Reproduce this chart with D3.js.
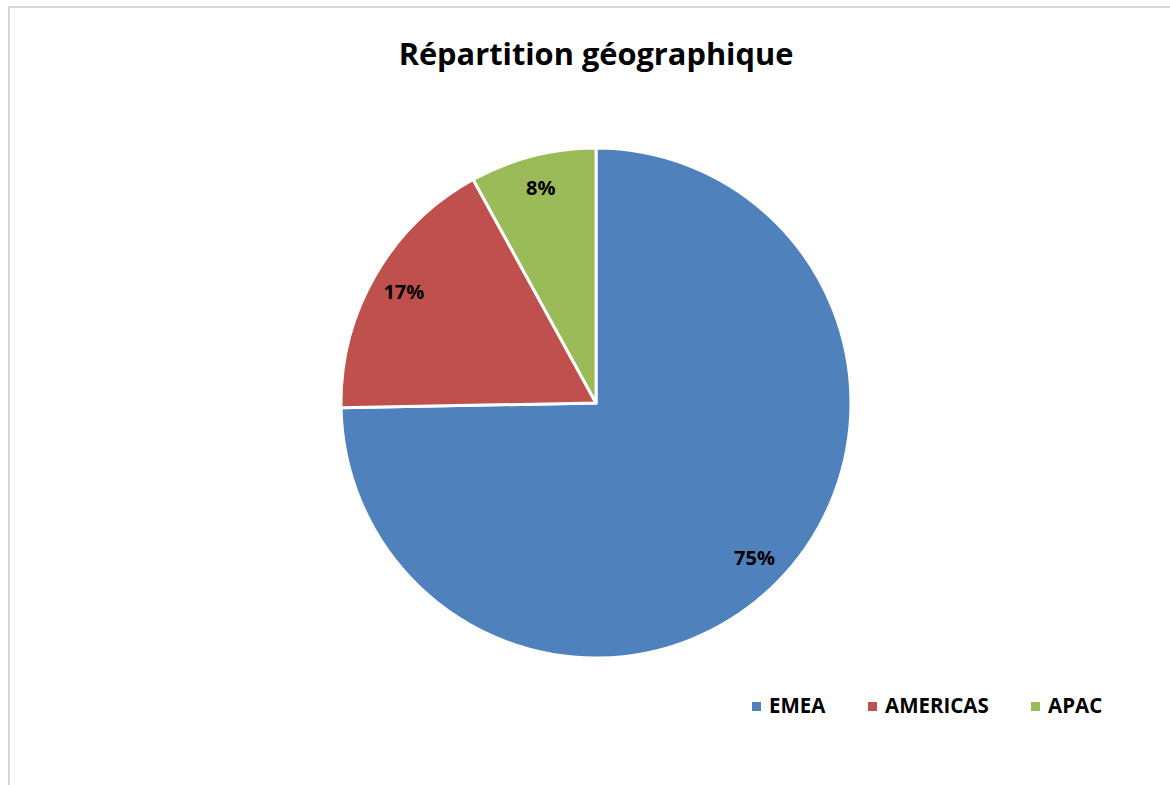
<!DOCTYPE html>
<html>
<head>
<meta charset="utf-8">
<script src="https://cdn.jsdelivr.net/npm/d3@7"></script>
<style>
  body { margin: 0; background: white; }
  svg { display: block; }
</style>
</head>
<body>
<svg id="chart" width="1170" height="785"></svg>
<script>
var width = 1170;
var height = 785;

var categories = ["EMEA", "AMERICAS", "APAC"];
var values = [74.7, 17.3, 8.0];
var labels = ["75%", "17%", "8%"];
var colors = ["#4F81BD", "#C0504D", "#9BBB59"];

var cx = 596, cy = 403, radius = 255;

var svg = d3.select("#chart");

// frame of the chart area
svg.append("rect")
    .attr("x", 9)
    .attr("y", 7)
    .attr("width", width)
    .attr("height", height)
    .attr("fill", "white")
    .attr("stroke", "#d9d9d9")
    .attr("stroke-width", 2);

var title = svg.append("text")
    .attr("x", cx)
    .attr("y", 65)
    .attr("text-anchor", "middle")
    .style("font-family", "'Open Sans', sans-serif")
    .style("font-weight", "bold")
    .style("font-size", "30px")
    .text("Répartition géographique");

// fit the title to the width seen in the picture
var tw = title.node().getComputedTextLength();
title.style("font-size", (30 * 395 / tw) + "px");

var color = d3.scaleOrdinal(categories, colors);

var pie = d3.pie()
    .sort(null)
    .value(d => d.value);

var data = categories.map((c, i) => ({ name: c, value: values[i], label: labels[i] }));
var arcs = pie(data);

var arc = d3.arc()
    .innerRadius(0)
    .outerRadius(radius);

var labelArc = d3.arc()
    .innerRadius(222)
    .outerRadius(222);

var g = svg.append("g")
    .attr("transform", `translate(${cx},${cy})`);

g.selectAll("path")
    .data(arcs)
    .join("path")
    .attr("d", arc)
    .attr("fill", d => color(d.data.name))
    .attr("stroke", "white")
    .attr("stroke-width", 3)
    .attr("stroke-linejoin", "round");

g.selectAll("text")
    .data(arcs)
    .join("text")
    .attr("transform", d => `translate(${labelArc.centroid(d)})`)
    .attr("text-anchor", "middle")
    .attr("dy", "0.35em")
    .style("font-family", "'Open Sans', sans-serif")
    .style("font-weight", "bold")
    .style("font-size", "20px")
    .text(d => d.data.label);

// legend
var legendX = [752, 868, 1031];

var legend = svg.append("g")
    .selectAll("g")
    .data(categories)
    .join("g")
    .attr("transform", (d, i) => `translate(${legendX[i]},702)`);

legend.append("rect")
    .attr("width", 9)
    .attr("height", 9)
    .attr("fill", d => color(d));

legend.append("text")
    .attr("x", 17)
    .attr("y", 11)
    .style("font-family", "'Open Sans', sans-serif")
    .style("font-weight", "bold")
    .style("font-size", "20.5px")
    .text(d => d);
</script>
</body>
</html>
